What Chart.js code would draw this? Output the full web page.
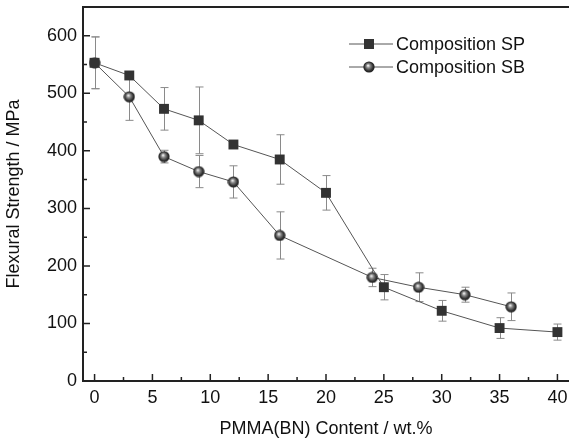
<!DOCTYPE html>
<html>
<head>
<meta charset="utf-8">
<script src="https://cdn.jsdelivr.net/npm/chart.js@4"></script>
<style>
  html, body { margin: 0; padding: 0; background: #fff; }
  canvas { display: block; }
</style>
</head>
<body>
<canvas id="strengthChart" width="569" height="442"></canvas>
<script>
// values
const contentSP = [0, 3, 6, 9, 12, 16, 20, 25, 30, 35, 40];
const strengthSP = [553, 531, 473, 453, 411, 385, 327, 163, 122, 92, 85];
const errorSP = [45, 0, 37, 58, 0, 43, 30, 22, 18, 18, 14];

const contentSB = [0, 3, 6, 9, 12, 16, 24, 28, 32, 36];
const strengthSB = [553, 494, 390, 364, 346, 253, 180, 163, 150, 129];
const errorSB = [45, 41, 11, 28, 28, 41, 16, 25, 13, 24];

const xTicks = [0, 5, 10, 15, 20, 25, 30, 35, 40];
const yTicks = [0, 100, 200, 300, 400, 500, 600];

const FONT = 'Liberation Sans, Arial, sans-serif';
const AXIS = '#222';

// shaded ball marker
const makeBall = () => {
    const c = document.createElement('canvas');
    c.width = 12; c.height = 12;
    const g = c.getContext('2d');
    const grad = g.createRadialGradient(5, 4.5, 0.3, 6, 6, 6);
    grad.addColorStop(0, '#f4f4f4');
    grad.addColorStop(0.3, '#8a8a8a');
    grad.addColorStop(0.7, '#333');
    grad.addColorStop(1, '#111');
    g.fillStyle = grad;
    g.beginPath();
    g.arc(6, 6, 5.6, 0, Math.PI * 2);
    g.fill();
    return c;
};
const ball = makeBall();

const toPoints = (xs, ys) => xs.map((x, i) => ({ x: x, y: ys[i] }));

// no extra room for edge labels, the axes sit where the figure puts them
const noPad = s => { s.paddingTop = 0; s.paddingBottom = 0; s.paddingLeft = 0; s.paddingRight = 0; };

const errorBars = {
    id: 'errorBars',
    beforeDatasetsDraw(chart) {
        const { ctx, scales: { x, y } } = chart;
        const sets = [[contentSP, strengthSP, errorSP], [contentSB, strengthSB, errorSB]];
        ctx.save();
        ctx.strokeStyle = '#8a8a8a';
        ctx.lineWidth = 1;
        sets.forEach(([xs, ys, es]) => {
            xs.forEach((v, i) => {
                if (!es[i]) return;
                const px = Math.round(x.getPixelForValue(v)) + 0.5;
                const top = y.getPixelForValue(ys[i] + es[i]);
                const bot = y.getPixelForValue(ys[i] - es[i]);
                ctx.beginPath();
                ctx.moveTo(px, top); ctx.lineTo(px, bot);
                ctx.moveTo(px - 4, top); ctx.lineTo(px + 4, top);
                ctx.moveTo(px - 4, bot); ctx.lineTo(px + 4, bot);
                ctx.stroke();
            });
        });
        ctx.restore();
    }
};

const frameAndTicks = {
    id: 'frameAndTicks',
    afterDraw(chart) {
        const { ctx, chartArea: a, scales: { x, y } } = chart;
        ctx.save();
        ctx.strokeStyle = AXIS;
        ctx.lineWidth = 2;
        ctx.beginPath();
        ctx.moveTo(a.left - 1, a.top);
        ctx.lineTo(a.right, a.top);
        ctx.stroke();

        ctx.lineWidth = 1.5;
        ctx.beginPath();
        xTicks.forEach((v, i) => {
            const px = x.getPixelForValue(v);
            ctx.moveTo(px, a.bottom); ctx.lineTo(px, a.bottom - 7);
            if (i < xTicks.length - 1) {
                const m = x.getPixelForValue(v + 2.5);
                ctx.moveTo(m, a.bottom); ctx.lineTo(m, a.bottom - 4);
            }
        });
        yTicks.forEach((v, i) => {
            const py = y.getPixelForValue(v);
            ctx.moveTo(a.left, py); ctx.lineTo(a.left + 7, py);
            const m = y.getPixelForValue(v + 50);
            ctx.moveTo(a.left, m); ctx.lineTo(a.left + 4, m);
        });
        ctx.stroke();

        // legend
        const rows = [44, 67];
        chart.data.datasets.forEach((ds, i) => {
            const ry = rows[i];
            ctx.strokeStyle = '#555';
            ctx.lineWidth = 1;
            ctx.beginPath();
            ctx.moveTo(349, ry); ctx.lineTo(393, ry);
            ctx.stroke();
            if (ds.pointStyle === 'rect') {
                ctx.fillStyle = '#333';
                ctx.fillRect(364, ry - 5, 10, 10);
            } else {
                ctx.drawImage(ball, 363, ry - 6);
            }
            ctx.fillStyle = '#111';
            ctx.font = '18px ' + FONT;
            ctx.textBaseline = 'middle';
            ctx.textAlign = 'left';
            ctx.fillText(ds.label, 396, ry + 1);
        });
        ctx.restore();
    }
};

new Chart(document.getElementById('strengthChart').getContext('2d'), {
    type: 'scatter',
    data: {
        datasets: [{
            label: 'Composition SP',
            data: toPoints(contentSP, strengthSP),
            showLine: true,
            borderColor: '#555',
            borderWidth: 1,
            pointStyle: 'rect',
            pointRadius: 7,
            pointBackgroundColor: '#333',
            pointBorderColor: '#333',
            pointBorderWidth: 0
        }, {
            label: 'Composition SB',
            data: toPoints(contentSB, strengthSB),
            showLine: true,
            borderColor: '#555',
            borderWidth: 1,
            pointStyle: ball,
            pointRadius: 6
        }]
    },
    options: {
        responsive: false,
        animation: false,
        devicePixelRatio: 1,
        layout: { autoPadding: false, padding: { top: 7, right: 0, left: 0, bottom: 0 } },
        plugins: { legend: { display: false }, tooltip: { enabled: false } },
        scales: {
            x: {
                type: 'linear',
                min: -1,
                max: 41,
                grid: { display: false, drawTicks: false },
                border: { display: true, color: AXIS, width: 2 },
                afterBuildTicks: s => { s.ticks = xTicks.map(v => ({ value: v })); },
                afterFit: s => { s.height = 61; noPad(s); },
                ticks: { color: '#111', font: { family: FONT, size: 18 }, padding: 6, maxRotation: 0 },
                title: {
                    display: true,
                    text: 'PMMA(BN) Content / wt.%',
                    color: '#111',
                    font: { family: FONT, size: 18 },
                    padding: { top: 0, bottom: 2 }
                }
            },
            y: {
                type: 'linear',
                min: 0,
                max: 650,
                grid: { display: false, drawTicks: false },
                border: { display: true, color: AXIS, width: 2 },
                afterBuildTicks: s => { s.ticks = yTicks.map(v => ({ value: v })); },
                afterFit: s => { s.width = 83; noPad(s); },
                ticks: { color: '#111', font: { family: FONT, size: 18 }, padding: 6 },
                title: {
                    display: true,
                    text: 'Flexural Strength / MPa',
                    color: '#111',
                    font: { family: FONT, size: 18 },
                    padding: { top: 3, bottom: 0 }
                }
            }
        }
    },
    plugins: [errorBars, frameAndTicks]
});
</script>
</body>
</html>
